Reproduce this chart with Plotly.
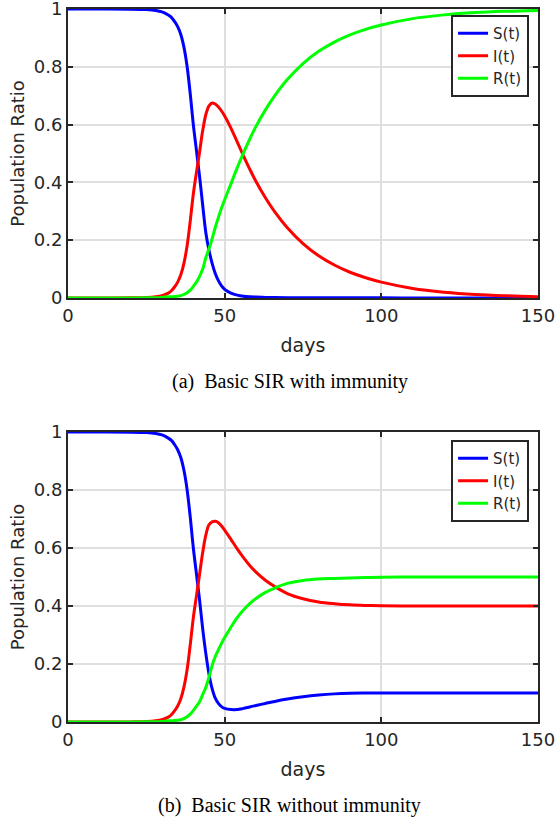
import plotly.graph_objects as go

# ---------------- data ----------------
days = [0, 10, 20, 25, 28, 30, 32, 33, 34, 35, 36, 37, 38, 39, 40, 41, 42, 43, 44, 45,
        46, 47, 48, 49, 50, 52, 54, 56, 58, 60, 63, 66, 70, 75, 80, 85, 90, 95, 100,
        110, 120, 130, 140, 150]

# (a) Basic SIR with immunity
S_a = [1.0, 0.9999, 0.9995, 0.998, 0.995, 0.99, 0.979, 0.971, 0.957, 0.939, 0.912, 0.868,
       0.802, 0.708, 0.60, 0.51, 0.42, 0.32, 0.225, 0.165, 0.12, 0.085, 0.06, 0.042, 0.03,
       0.017, 0.01, 0.006, 0.004, 0.003, 0.002, 0.0015, 0.001, 0.0008, 0.0006, 0.0005,
       0.0005, 0.0004, 0.0004, 0.0003, 0.0003, 0.0003, 0.0003, 0.0003]
I_a = [0.0, 0.0001, 0.0004, 0.0015, 0.004, 0.008, 0.017, 0.025, 0.038, 0.055, 0.08, 0.12,
       0.18, 0.265, 0.36, 0.435, 0.505, 0.58, 0.635, 0.665, 0.675, 0.671, 0.661, 0.647,
       0.630, 0.588, 0.540, 0.492, 0.446, 0.403, 0.347, 0.298, 0.243, 0.188, 0.146, 0.114,
       0.089, 0.07, 0.055, 0.033, 0.02, 0.012, 0.0075, 0.0045]
R_a = [0.0, 0.0, 0.0001, 0.0005, 0.001, 0.002, 0.004, 0.004, 0.005, 0.006, 0.008, 0.012,
       0.018, 0.027, 0.04, 0.055, 0.075, 0.10, 0.14, 0.17, 0.205, 0.244, 0.279, 0.311,
       0.34, 0.395, 0.45, 0.502, 0.55, 0.594, 0.651, 0.7005, 0.756, 0.8112, 0.8534,
       0.8855, 0.9105, 0.9296, 0.9446, 0.9667, 0.9797, 0.9877, 0.9922, 0.9952]

# (b) Basic SIR without immunity
S_b = [1.0, 0.9999, 0.9995, 0.998, 0.995, 0.99, 0.979, 0.971, 0.957, 0.939, 0.912, 0.868,
       0.802, 0.708, 0.60, 0.51, 0.42, 0.32, 0.235, 0.165, 0.115, 0.082, 0.064, 0.053, 0.047,
       0.043, 0.043, 0.047, 0.052, 0.057, 0.064, 0.071, 0.079, 0.087, 0.093, 0.097, 0.099,
       0.0997, 0.1, 0.1, 0.1, 0.1, 0.1, 0.1]
I_b = [0.0, 0.0001, 0.0004, 0.0015, 0.004, 0.008, 0.017, 0.025, 0.038, 0.055, 0.08, 0.12,
       0.18, 0.265, 0.36, 0.435, 0.51, 0.585, 0.645, 0.68, 0.69, 0.692, 0.687, 0.676,
       0.662, 0.630, 0.597, 0.567, 0.540, 0.517, 0.489, 0.467, 0.443, 0.425, 0.414, 0.408,
       0.404, 0.402, 0.401, 0.4, 0.4, 0.4, 0.4, 0.4]
R_b = [0.0, 0.0, 0.0001, 0.0005, 0.001, 0.002, 0.004, 0.004, 0.005, 0.006, 0.008, 0.012,
       0.018, 0.027, 0.04, 0.055, 0.07, 0.095, 0.12, 0.155, 0.195, 0.226, 0.249, 0.271,
       0.291, 0.327, 0.36, 0.386, 0.408, 0.426, 0.447, 0.462, 0.478, 0.488, 0.493, 0.495,
       0.497, 0.4983, 0.499, 0.5, 0.5, 0.5, 0.5, 0.5]

series_names = ["S(t)", "I(t)", "R(t)"]
series_colors = ["#0000ff", "#ff0000", "#00ff00"]
x_ticks = [0, 50, 100, 150]
y_ticks = [0, 0.2, 0.4, 0.6, 0.8, 1]
y_tick_labels = ["0", "0.2", "0.4", "0.6", "0.8", "1"]
captions = ["(a)  Basic SIR with immunity", "(b)  Basic SIR without immunity"]

# ---------------- figure ----------------
AX = "#262626"
GRID = "#dfdfdf"
SANS = "DejaVu Sans"

fig = go.Figure()

panels = [((S_a, I_a, R_a), "x", "y", "legend"), ((S_b, I_b, R_b), "x2", "y2", "legend2")]
for vals, xa, ya, lg in panels:
    for name, col, v in zip(series_names, series_colors, vals):
        fig.add_trace(go.Scatter(x=days, y=v, name=name, mode="lines",
                                 line=dict(color=col, width=3, shape="spline", smoothing=1.0),
                                 xaxis=xa, yaxis=ya, legend=lg))

def xaxis_style(anchor):
    return dict(range=[0, 150], tickvals=x_ticks, anchor=anchor, automargin=False,
                showline=True, linecolor=AX, linewidth=2, mirror="ticks",
                ticks="inside", ticklen=5, tickwidth=1.5, tickcolor=AX,
                showgrid=True, gridcolor=GRID, gridwidth=1.5, zeroline=False,
                ticklabeloverflow="allow",
                tickfont=dict(family=SANS, size=18, color=AX),
                title=dict(text="days", font=dict(family=SANS, size=19, color=AX), standoff=14))

def yaxis_style(anchor, domain):
    return dict(range=[0, 1], tickvals=y_ticks, ticktext=y_tick_labels, anchor=anchor,
                domain=domain, automargin=False,
                showline=True, linecolor=AX, linewidth=2, mirror="ticks",
                ticks="inside", ticklen=5, tickwidth=1.5, tickcolor=AX,
                showgrid=True, gridcolor=GRID, gridwidth=1.5, zeroline=False,
                ticklabeloverflow="allow",
                tickfont=dict(family=SANS, size=18, color=AX),
                title=dict(text="Population Ratio", font=dict(family=SANS, size=18, color=AX),
                           standoff=4))

legend_style = dict(xanchor="right", yanchor="top", x=0.981,
                    bgcolor="white", bordercolor=AX, borderwidth=2,
                    font=dict(family=SANS, size=15, color=AX),
                    tracegroupgap=0, itemwidth=30)

fig.update_layout(
    width=555, height=821,
    margin=dict(l=68, r=17, t=9, b=99, autoexpand=False),
    paper_bgcolor="white", plot_bgcolor="white",
    xaxis=xaxis_style("y"),
    yaxis=yaxis_style("x", [0.5947, 1.0]),
    xaxis2=xaxis_style("y2"),
    yaxis2=yaxis_style("x2", [0.0, 0.4067]),
    legend=dict(legend_style, y=(722 - 15) / 713),
    legend2=dict(legend_style, y=(722 - 440) / 713),
    annotations=[
        dict(text=captions[0], xref="paper", yref="paper", x=0.472, y=(722 - 381) / 713,
             xanchor="center", yanchor="middle", showarrow=False,
             font=dict(family="Liberation Serif", size=20, color="#000000")),
        dict(text=captions[1], xref="paper", yref="paper", x=0.472, y=(722 - 805.5) / 713,
             xanchor="center", yanchor="middle", showarrow=False,
             font=dict(family="Liberation Serif", size=20, color="#000000")),
    ],
)

fig.write_html("out.html", config={"displayModeBar": False},
               post_script="document.body.style.margin='0px';")
